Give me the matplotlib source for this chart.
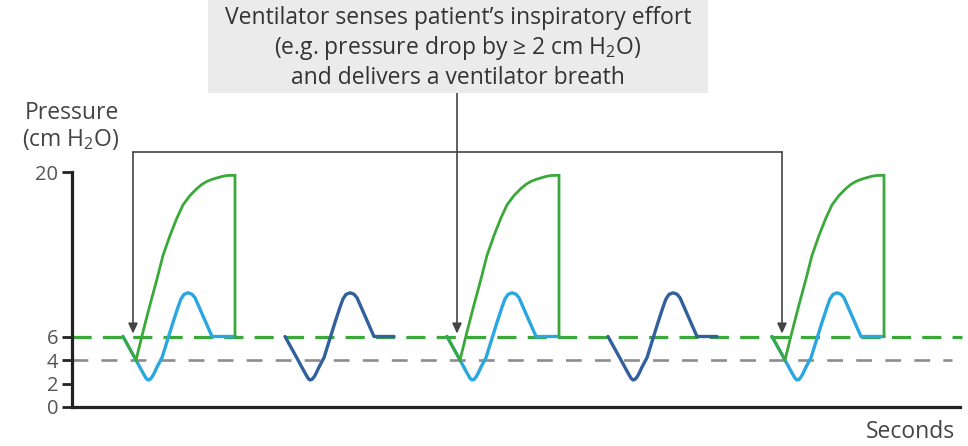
import matplotlib
matplotlib.use("Agg")
import matplotlib.pyplot as plt
from matplotlib.patches import Rectangle

plt.rcParams['font.family'] = ['Open Sans', 'DejaVu Sans']
plt.rcParams['mathtext.fontset'] = 'custom'
plt.rcParams['mathtext.rm'] = 'Open Sans'

# breath onsets (s) and which ones trigger a ventilator breath
onsets = [0.51, 2.13, 3.75, 5.36, 7.00]
triggered = [True, False, True, False, True]

# patient's own effort, relative to onset: time (s), pressure (cm H2O)
effort_t = [0.00, 0.13, 0.19, 0.21, 0.23, 0.25, 0.27, 0.29, 0.31, 0.34, 0.39,
            0.50, 0.55, 0.58, 0.61, 0.65, 0.69, 0.72, 0.89, 1.12]
effort_p = [6.0, 4.0, 3.05, 2.75, 2.45, 2.3, 2.35, 2.55, 2.85, 3.4, 4.2,
            7.2, 8.5, 9.2, 9.58, 9.72, 9.6, 9.3, 6.0, 6.0]
# patient-only breaths stop a bit earlier
effort_end = 1.09

# ventilator breath (pressure at airway), relative to onset
vent_t = [0.00, 0.13, 0.20, 0.27, 0.34, 0.40, 0.47, 0.54, 0.60, 0.67, 0.74,
          0.79, 0.84, 0.89, 0.94, 0.99, 1.04, 1.12, 1.12]
vent_p = [6.0, 4.0, 6.4, 8.7, 10.9, 12.9, 14.6, 16.1, 17.2, 18.0, 18.6,
          18.95, 19.2, 19.37, 19.5, 19.62, 19.7, 19.72, 6.0]

peep = 6
trigger_level = 4
yticks = [0, 2, 4, 6, 20]
arrow_dt = 0.10

green = '#3aa93a'
light_blue = '#2aa6e0'
dark_blue = '#31609c'
grey_dash = '#8c8c8c'

fig = plt.figure(figsize=(9.68, 4.46), dpi=100)
ax = fig.add_axes([72 / 968, 39 / 446, 888 / 968, 235 / 446])
ax.set_xlim(0, 8.88)
ax.set_ylim(0, 20)

# baselines
ax.plot([0, 8.9], [peep, peep], color=green, lw=2.3, dashes=(6, 3.5),
        clip_on=False, zorder=1)
ax.plot([0, 8.8], [trigger_level, trigger_level], color=grey_dash, lw=1.9,
        dashes=(6, 5), clip_on=False, zorder=1)

for t0, trig in zip(onsets, triggered):
    if trig:
        ax.plot([t0 + t for t in effort_t], effort_p, color=light_blue, lw=2.4,
                solid_joinstyle='round', solid_capstyle='round', zorder=3)
        ax.plot([t0 + t for t in vent_t], vent_p, color=green, lw=2.0,
                solid_joinstyle='miter', zorder=4)
    else:
        pts = [(t, p) for t, p in zip(effort_t, effort_p) if t <= effort_end]
        pts.append((effort_end, peep))
        ax.plot([t0 + t for t, _ in pts], [p for _, p in pts], color=dark_blue,
                lw=2.4, solid_joinstyle='round', solid_capstyle='round', zorder=3)

# trigger arrows
trig_x = [t0 + arrow_dt for t0, trig in zip(onsets, triggered) if trig]
bracket_y = 21.7
ax.plot([trig_x[0], trig_x[-1]], [bracket_y, bracket_y], color='#444444',
        lw=1.2, clip_on=False)
for i, x in enumerate(trig_x):
    top = 26.75 if i == 1 else bracket_y
    ax.annotate('', xy=(x, 6.25), xytext=(x, top), annotation_clip=False,
                arrowprops=dict(arrowstyle='-|>,head_length=0.6,head_width=0.28',
                                color='#444444', lw=1.2, shrinkA=0, shrinkB=0))

# axes styling
for side in ['top', 'right']:
    ax.spines[side].set_visible(False)
for side in ['left', 'bottom']:
    ax.spines[side].set_color('#222222')
    ax.spines[side].set_linewidth(2.3)
ax.set_xticks([])
ax.set_yticks(yticks)
ax.tick_params(axis='y', length=7, width=2, color='#222222', labelsize=14.5,
               labelcolor='#555555', pad=3)

fig.text(25 / 968, 1 - 113 / 446, 'Pressure', fontsize=16.5, color='#444444',
         ha='left', va='center')
fig.text(22 / 968, 1 - 139 / 446, '(cm H$_\\mathregular{2}$O)', fontsize=16.5,
         color='#444444', ha='left', va='center')
fig.text(955 / 968, 1 - 432 / 446, 'Seconds', fontsize=16.5, color='#444444',
         ha='right', va='center')

# callout box
fig.patches.append(Rectangle((208 / 968, 1 - 93 / 446), 500 / 968, 93 / 446,
                             transform=fig.transFigure, facecolor='#ebebeb',
                             edgecolor='none', zorder=0))
box_lines = ["Ventilator senses patient\u2019s inspiratory effort",
             "(e.g. pressure drop by \u2265 2 cm H$_\\mathregular{2}$O)",
             "and delivers a ventilator breath"]
for k, line in enumerate(box_lines):
    fig.text(458 / 968, 1 - (18 + 30 * k) / 446, line, fontsize=16.5,
             color='#333333', ha='center', va='center')

fig.savefig('out.png', dpi=100)
